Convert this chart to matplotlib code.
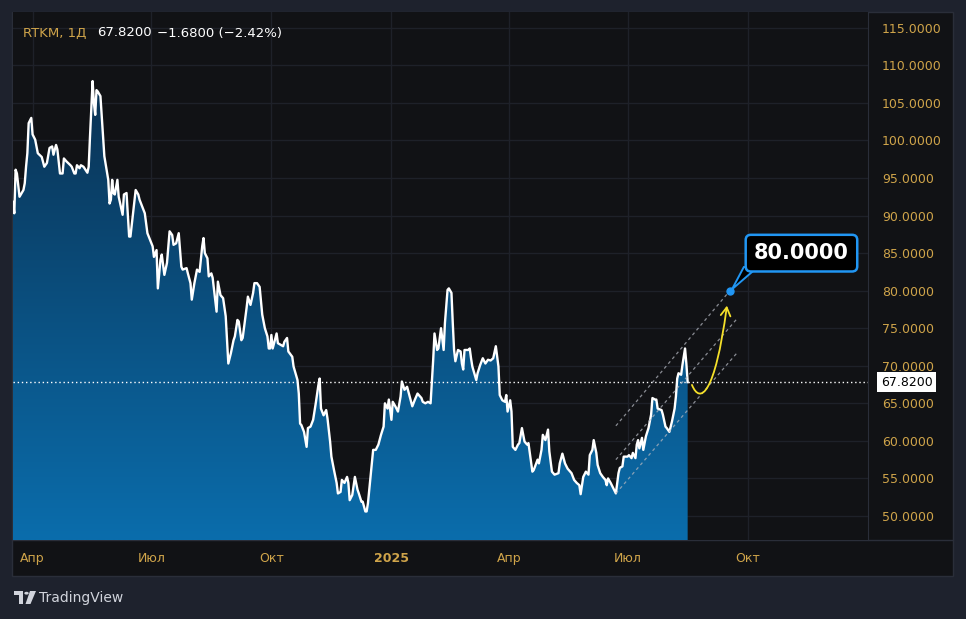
import numpy as np
import pandas as pd
import matplotlib
matplotlib.use('Agg')
import matplotlib.pyplot as plt
import matplotlib.dates as mdates
import matplotlib.transforms as mtransforms
from matplotlib.colors import LinearSegmentedColormap
from matplotlib.patches import Rectangle, Polygon, Circle, FancyArrowPatch
from matplotlib.lines import Line2D
from matplotlib.path import Path

# data: daily closes, days counted from start date
start = '2024-03-17'
days = [0, 1, 2, 3, 5, 8, 9, 10, 11, 12, 14, 15, 17, 19, 22, 24, 26, 28, 30, 31,
        33, 34, 36, 38, 39, 41, 44, 45, 47, 48, 49, 51, 52, 54, 57, 58, 59, 61, 62, 63,
        64, 65, 67, 69, 70, 73, 74, 75, 76, 77, 78, 80, 81, 84, 85, 87, 89, 90, 92, 94,
        96, 97, 99, 101, 103, 107, 108, 110, 111, 113, 114, 116, 118, 120, 122, 123, 125, 127, 129, 130,
        133, 134, 136, 137, 139, 141, 143, 145, 146, 147, 149, 150, 152, 153, 156, 157, 159, 161, 163, 165,
        167, 169, 170, 172, 173, 175, 176, 179, 180, 182, 184, 185, 187, 189, 191, 193, 195, 196, 197, 198,
        199, 202, 203, 205, 207, 208, 210, 211, 214, 215, 218, 219, 220, 221, 223, 225, 226, 228, 230, 232,
        234, 235, 236, 238, 240, 241, 243, 244, 246, 248, 249, 251, 252, 254, 256, 257, 258, 260, 262, 264,
        265, 267, 268, 270, 271, 272, 274, 276, 278, 280, 282, 284, 285, 287, 288, 290, 291, 293, 295, 297,
        298, 300, 302, 304, 306, 308, 310, 313, 314, 316, 318, 320, 322, 323, 325, 326, 328, 330, 331, 333,
        334, 336, 337, 338, 339, 341, 343, 344, 345, 346, 349, 350, 351, 352, 355, 356, 358, 360, 362, 364,
        366, 368, 370, 372, 373, 375, 377, 378, 379, 381, 382, 383, 385, 387, 388, 390, 392, 394, 395, 398,
        399, 402, 403, 405, 406, 408, 410, 411, 413, 415, 418, 419, 421, 423, 425, 427, 428, 430, 432, 434,
        435, 437, 439, 441, 442, 444, 445, 447, 448, 450, 452, 454, 455, 456, 458, 460, 462, 464, 465, 467,
        468, 471, 472, 474, 475, 477, 478, 479, 480, 482, 483, 485, 487, 489, 490, 492, 493, 494, 497, 498,
        500, 501, 503, 505, 507, 508, 509, 510, 512, 513, 515, 516, 517]
prices = [91.8, 90.3, 96.1, 95.6, 92.5, 93.4, 94.3, 96.5, 98.3, 102.3, 103.0, 100.8, 100.1, 98.3, 97.8, 96.5, 97.0, 99.0, 99.2, 98.1,
          99.4, 98.8, 95.6, 95.6, 97.6, 97.2, 96.7, 96.5, 95.6, 95.6, 96.7, 96.3, 96.7, 96.5, 95.7, 96.5, 100.5, 107.9, 105.0, 103.4,
          106.7, 106.5, 105.9, 100.5, 97.9, 94.75, 91.6, 92.1, 94.75, 93.0, 92.8, 94.75, 92.5, 90.1, 92.8, 93.0, 87.2, 87.2, 90.3, 93.4,
          92.8, 92.1, 91.2, 90.3, 87.65, 85.9, 84.5, 85.4, 80.3, 84.1, 84.8, 82.1, 83.7, 87.9, 87.4, 86.1, 86.3, 87.65, 83.2, 82.8,
          83.0, 82.3, 81.0, 78.8, 81.0, 82.8, 82.5, 85.9, 87.0, 85.0, 84.3, 81.9, 82.3, 81.7, 77.2, 81.2, 79.4, 79.0, 76.6, 70.3,
          71.7, 73.4, 73.9, 76.1, 75.9, 73.4, 73.7, 77.7, 79.2, 78.1, 79.7, 81.0, 81.0, 80.5, 76.8, 75.0, 73.9, 72.3, 72.3, 74.1,
          72.3, 74.3, 73.0, 72.8, 72.6, 73.2, 73.7, 71.9, 71.2, 69.9, 68.1, 66.3, 62.3, 62.1, 61.2, 59.2, 61.7, 61.9, 62.8, 65.0,
          67.4, 68.3, 64.3, 63.4, 64.1, 63.0, 59.9, 57.9, 56.1, 54.4, 53.0, 53.2, 54.8, 54.4, 55.2, 54.4, 52.1, 52.8, 55.2, 53.5,
          53.0, 51.9, 51.9, 50.6, 50.6, 51.7, 55.2, 58.8, 58.8, 59.5, 60.8, 61.9, 65.0, 64.3, 65.5, 62.8, 65.2, 64.6, 63.9, 65.9,
          67.9, 66.8, 67.2, 65.9, 64.6, 65.5, 66.3, 65.7, 65.2, 65.0, 65.2, 65.0, 70.8, 74.3, 72.1, 72.3, 75.0, 72.1, 75.7, 80.1,
          80.3, 79.7, 75.7, 72.1, 70.6, 72.1, 71.9, 70.3, 69.5, 72.1, 72.1, 72.3, 71.0, 69.9, 68.1, 69.0, 70.1, 71.0, 70.3, 70.8,
          70.7, 71.0, 72.6, 69.9, 66.1, 65.4, 65.2, 66.1, 63.9, 65.4, 63.9, 59.2, 58.8, 59.5, 59.7, 61.7, 59.9, 59.5, 59.7, 55.9,
          56.1, 57.5, 57.0, 58.8, 60.8, 60.1, 61.5, 58.6, 55.9, 55.5, 55.7, 57.0, 58.3, 57.0, 56.3, 55.9, 55.7, 54.8, 54.4, 54.1,
          52.9, 55.2, 55.9, 55.5, 58.1, 58.8, 60.1, 58.4, 56.8, 55.7, 55.2, 54.8, 54.1, 55.0, 54.4, 53.7, 53.0, 55.7, 56.4, 56.6,
          57.9, 57.9, 58.1, 57.7, 58.4, 57.7, 59.5, 60.1, 59.0, 60.4, 58.8, 60.6, 61.7, 63.5, 65.7, 65.5, 65.5, 64.3, 64.1, 63.5,
          61.9, 61.7, 61.2, 62.6, 64.3, 65.9, 68.3, 69.0, 68.8, 70.1, 72.3, 70.3, 67.82]

ticker = 'RTKM, 1Д'
last_price = 67.82
change = -1.68
change_pct = -2.42
target = 80.0

yticks = list(range(50, 116, 5))
tick_dates = ['2024-04-01', '2024-07-01', '2024-10-01', '2025-01-01',
              '2025-04-01', '2025-07-01', '2025-10-01']
tick_labels = ['Апр', 'Июл', 'Окт', '2025', 'Апр', 'Июл', 'Окт']

# drawing (day, value) of the annotations
channel = [((462, 62.0), (549.4, 80.0)),
           ((462, 57.5), (555, 76.3)),
           ((462, 53.0), (555, 71.75))]
target_day = 549.4
arrow_days = [520.3, 526.5, 537.9, 547.1]
arrow_vals = [67.45, 64.8, 66.1, 78.0]

# colours
FIG_BG = '#1e222d'
BG = '#111215'
BORDER = '#2a2e39'
GRID = '#1e2129'
GOLD = '#cfa44a'
BLUE = '#2196f3'
YELLOW = '#f5e02a'

W, H = 966, 619


def fx(px):
    return px / W


def fy(py):
    return 1 - py / H


fig = plt.figure(figsize=(W / 100, H / 100), dpi=100, facecolor=FIG_BG)
fig.patches.append(Rectangle((fx(12), fy(576)), fx(953) - fx(12), fy(12) - fy(576),
                             transform=fig.transFigure, facecolor=BG,
                             edgecolor=BORDER, lw=1, zorder=-2))
fig.add_artist(Line2D([fx(12), fx(953)], [fy(540), fy(540)], transform=fig.transFigure,
                      color=BORDER, lw=1, zorder=-1))

ax = fig.add_axes([fx(13), fy(540), fx(868) - fx(13), fy(12) - fy(540)])
ax.set_facecolor(BG)

t0 = mdates.date2num(pd.Timestamp(start))
x = t0 + np.array(days, dtype=float)
y = np.array(prices)

ymin, ymax = 46.8, 117.1

# gradient area
fill = ax.fill_between(x, y, ymin - 5, color='none', lw=0)
grad = np.linspace(0, 1, 256).reshape(-1, 1)
cmap = LinearSegmentedColormap.from_list('area', ['#0a6dac', '#0b3050'])
im = ax.imshow(grad, cmap=cmap, aspect='auto', origin='lower',
               extent=[x[0], x[-1], ymin, 110], zorder=2, interpolation='bilinear')
im.set_clip_path(fill.get_paths()[0], transform=ax.transData)

ax.plot(x, y, color='white', lw=1.7, zorder=4, solid_joinstyle='round')

ax.axhline(last_price, color='white', lw=1, ls=(0, (1, 2)), zorder=3)

# channel
for (d1, v1), (d2, v2) in channel:
    ax.plot([t0 + d1, t0 + d2], [v1, v2], color='#b2b5be', lw=0.9, alpha=0.75,
            ls=(0, (2.5, 2.5)), zorder=5)

# yellow arrow
verts = list(zip(t0 + np.array(arrow_days), arrow_vals))
path = Path(verts, [Path.MOVETO, Path.CURVE4, Path.CURVE4, Path.CURVE4])
ax.add_patch(FancyArrowPatch(path=path, arrowstyle='->,head_length=6,head_width=3.5',
                             color=YELLOW, lw=1.3, zorder=6))

# axes
ax.set_xlim(t0, t0 + 655.2)
ax.set_ylim(ymin, ymax)
ax.yaxis.tick_right()
ax.set_yticks(yticks)
ax.set_yticklabels([f'{v:.4f}' for v in yticks])
ax.tick_params(axis='y', length=0, pad=10, labelsize=9, labelcolor=GOLD)
ax.set_xticks(mdates.date2num(pd.to_datetime(tick_dates)))
ax.set_xticklabels(tick_labels)
ax.tick_params(axis='x', length=0, pad=8.5, labelsize=9, labelcolor=GOLD)
for lbl in ax.get_xticklabels():
    if lbl.get_text().isdigit():
        lbl.set_fontweight('bold')
ax.grid(color=GRID, lw=1)
ax.set_axisbelow(True)
for s in ax.spines.values():
    s.set_visible(False)
ax.spines['right'].set_visible(True)
ax.spines['right'].set_color(BORDER)

# target callout: dot, tail and box
target_xy = (t0 + target_day, target)
ax.plot(*target_xy, 'o', color=BLUE, ms=5, zorder=8)
pt = mtransforms.Affine2D().scale(fig.dpi / 72).translate(*ax.transData.transform(target_xy))
ax.add_patch(Polygon([(1.5, 1.0), (10, 17), (20, 17)], closed=True, transform=pt,
                     fc='black', ec=BLUE, lw=1.4, zorder=8.5, clip_on=False))
ax.annotate(f'{target:.4f}', xy=target_xy, xytext=(51.5, 27),
            textcoords='offset points', ha='center', va='center',
            fontsize=15, fontweight='bold', color='white', zorder=9,
            bbox=dict(boxstyle='round,pad=0.4,rounding_size=0.25', fc='black', ec=BLUE, lw=1.8))

# last price label on price axis
ax.text(1.0 + 13 / 855, last_price, f'{last_price:.4f}', transform=ax.get_yaxis_transform(),
        ha='left', va='center', fontsize=9, color='black', zorder=10, clip_on=False,
        bbox=dict(boxstyle='square,pad=0.3', fc='white', ec='none'))

# header
fig.text(fx(23), fy(33), ticker, color=GOLD, fontsize=9.5, va='center')
fig.text(fx(97), fy(33), f'{last_price:.4f}', color='white', fontsize=9.5, va='center')
fig.text(fx(157), fy(33), f'{change:.4f} ({change_pct:.2f}%)'.replace('-', '−'),
         color='white', fontsize=9.5, va='center')

# logo
LOGO = '#d1d4dc'
fig.patches.append(Rectangle((fx(14), fy(595)), fx(23) - fx(14), fy(591) - fy(595),
                             transform=fig.transFigure, fc=LOGO, ec='none'))
fig.patches.append(Rectangle((fx(18.5), fy(604)), fx(23) - fx(18.5), fy(591) - fy(604),
                             transform=fig.transFigure, fc=LOGO, ec='none'))
fig.patches.append(Circle((fx(26.5), fy(593.2)), 2.2 / W, transform=fig.transFigure,
                          fc=LOGO, ec='none'))
fig.patches.append(Polygon([(fx(30), fy(591)), (fx(36), fy(591)), (fx(30.5), fy(604)),
                            (fx(25.5), fy(604))], closed=True, transform=fig.transFigure,
                           fc=LOGO, ec='none'))
fig.text(fx(39), fy(598), 'TradingView', color=LOGO, fontsize=10, va='center')

fig.savefig('out.png', dpi=100, facecolor=FIG_BG)
